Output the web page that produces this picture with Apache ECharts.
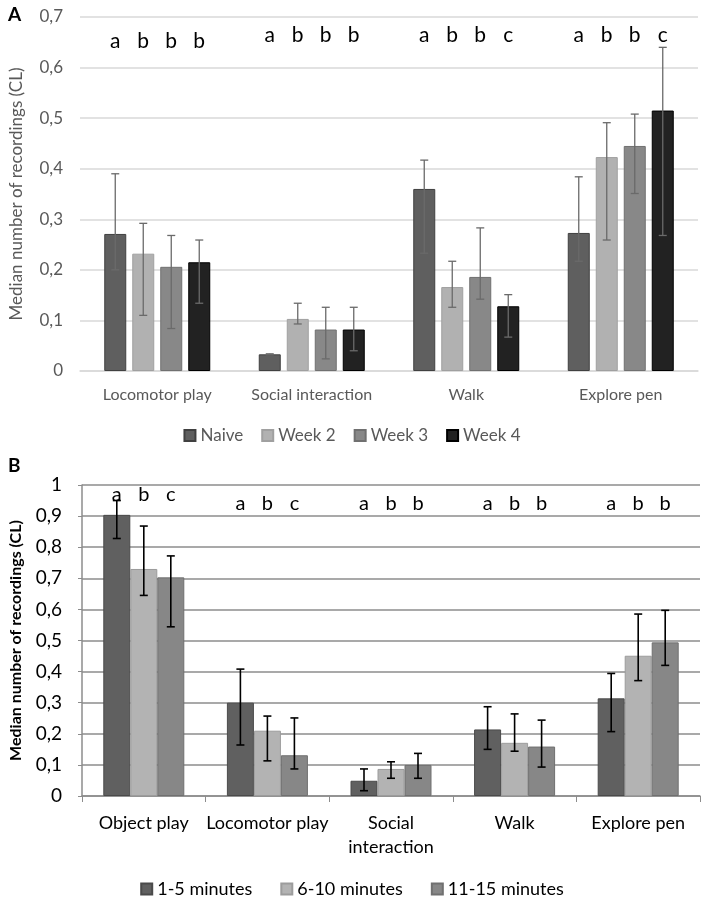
<!DOCTYPE html>
<html>
<head>
<meta charset="utf-8">
<script src="https://cdn.jsdelivr.net/npm/echarts@6/dist/echarts.min.js"></script>
<style>
  html, body { margin: 0; padding: 0; background: #fff; }
  #chart { width: 704px; height: 897px; }
</style>
</head>
<body>
<div id="chart"></div>
<script>
// Panel A: weeks
const catsA = ['Locomotor play', 'Social interaction', 'Walk', 'Explore pen'];
const namesA = ['Naive', 'Week 2', 'Week 3', 'Week 4'];
const naive = [0.271, 0.033, 0.36, 0.273];
const week2 = [0.232, 0.103, 0.166, 0.423];
const week3 = [0.206, 0.082, 0.186, 0.445];
const week4 = [0.215, 0.082, 0.128, 0.515];
const naiveLo = [0.20, 0.032, 0.233, 0.217];
const naiveHi = [0.39, 0.034, 0.417, 0.384];
const week2Lo = [0.11, 0.093, 0.126, 0.259];
const week2Hi = [0.292, 0.134, 0.217, 0.491];
const week3Lo = [0.084, 0.024, 0.142, 0.351];
const week3Hi = [0.268, 0.126, 0.283, 0.508];
const week4Lo = [0.134, 0.040, 0.067, 0.268];
const week4Hi = [0.259, 0.126, 0.151, 0.64];
const lettersA = [['a', 'b', 'b', 'b'], ['a', 'b', 'b', 'b'], ['a', 'b', 'b', 'c'], ['a', 'b', 'b', 'c']];
const ticksA = [0, 0.1, 0.2, 0.3, 0.4, 0.5, 0.6, 0.7];

// Panel B: minutes
const catsB = ['Object play', 'Locomotor play', 'Social\ninteraction', 'Walk', 'Explore pen'];
const namesB = ['1-5 minutes', '6-10 minutes', '11-15 minutes'];
const min1to5 = [0.904, 0.30, 0.049, 0.214, 0.314];
const min6to10 = [0.73, 0.21, 0.087, 0.171, 0.451];
const min11to15 = [0.703, 0.131, 0.10, 0.159, 0.494];
const min1to5Lo = [0.828, 0.164, 0.017, 0.150, 0.207];
const min1to5Hi = [0.95, 0.408, 0.087, 0.287, 0.394];
const min6to10Lo = [0.645, 0.113, 0.057, 0.144, 0.371];
const min6to10Hi = [0.868, 0.257, 0.11, 0.264, 0.585];
const min11to15Lo = [0.544, 0.087, 0.057, 0.093, 0.42];
const min11to15Hi = [0.772, 0.251, 0.137, 0.244, 0.597];
const lettersB = [['a', 'b', 'c'], ['a', 'b', 'c'], ['a', 'b', 'b'], ['a', 'b', 'b'], ['a', 'b', 'b']];

const FONT = 'Lato, "Open Sans", sans-serif';
const comma = v => String(Math.round(v * 10) / 10).replace('.', ',');

const chart = echarts.init(document.getElementById('chart'));

// bar offset from band centre
function offset(n, w, g, i) {
  return -(n * w + (n - 1) * g) / 2 + i * (w + g) + w / 2;
}

function errSeries(axis, lo, hi, off, color, lw, cap) {
  return {
    type: 'custom', xAxisIndex: axis, yAxisIndex: axis, z: 5, silent: true,
    data: lo.map((v, i) => [i, v, hi[i]]),
    renderItem: (params, api) => {
      const a = api.coord([api.value(0), api.value(1)]);
      const b = api.coord([api.value(0), api.value(2)]);
      const x = a[0] + off;
      const st = { stroke: color, lineWidth: lw };
      return {
        type: 'group', children: [
          { type: 'line', shape: { x1: x, y1: a[1], x2: x, y2: b[1] }, style: st },
          { type: 'line', shape: { x1: x - cap, y1: a[1], x2: x + cap, y2: a[1] }, style: st },
          { type: 'line', shape: { x1: x - cap, y1: b[1], x2: x + cap, y2: b[1] }, style: st }
        ]
      };
    }
  };
}

function letterSeries(axis, letters, yVals, offs, size) {
  return {
    type: 'custom', xAxisIndex: axis, yAxisIndex: axis, z: 6, silent: true,
    data: yVals.map((v, i) => [i, v]),
    renderItem: (params, api) => {
      const p = api.coord([api.value(0), api.value(1)]);
      return {
        type: 'group',
        children: letters[params.dataIndex].map((t, k) => ({
          type: 'text',
          style: { text: t, x: p[0] + offs[k], y: p[1], align: 'center', verticalAlign: 'middle',
            fill: '#000', font: size + 'px ' + FONT }
        }))
      };
    }
  };
}

const wA = 22, gA = 6, wB = 27, gB = 0;
const offA = namesA.map((_, i) => offset(4, wA, gA, i));
const offB = namesB.map((_, i) => offset(3, wB, gB, i));

const colA = ['#5f5f5f', '#b1b1b1', '#888888', '#222222'];
const bordA = ['#404040', '#a0a0a0', '#707070', '#000000'];
const colB = ['#606060', '#b3b3b3', '#878787'];
const bordB = ['#4a4a4a', '#9c9c9c', '#707070'];

const dataA = [naive, week2, week3, week4];
const loA = [naiveLo, week2Lo, week3Lo, week4Lo];
const hiA = [naiveHi, week2Hi, week3Hi, week4Hi];
const dataB = [min1to5, min6to10, min11to15];
const loB = [min1to5Lo, min6to10Lo, min11to15Lo];
const hiB = [min1to5Hi, min6to10Hi, min11to15Hi];

const series = [];
namesA.forEach((n, i) => series.push({
  name: n, type: 'bar', xAxisIndex: 0, yAxisIndex: 0, data: dataA[i],
  barWidth: wA, barGap: (gA / wA * 100) + '%',
  itemStyle: { color: colA[i], borderColor: bordA[i], borderWidth: 1 }
}));
namesB.forEach((n, i) => series.push({
  name: n, type: 'bar', xAxisIndex: 1, yAxisIndex: 1, data: dataB[i],
  barWidth: wB, barGap: '0%',
  itemStyle: { color: colB[i], borderColor: bordB[i], borderWidth: 1 }
}));
namesA.forEach((n, i) => series.push(errSeries(0, loA[i], hiA[i], offA[i], '#6a6a6a', 1.3, 4)));
namesB.forEach((n, i) => series.push(errSeries(1, loB[i], hiB[i], offB[i], '#000', 1.6, 4)));
series.push(letterSeries(0, lettersA, [0.652, 0.664, 0.664, 0.664], offA, 21));
series.push(letterSeries(1, lettersB, [0.968, 0.94, 0.94, 0.94, 0.94], offB, 20));

chart.setOption({
  animation: false,
  textStyle: { fontFamily: FONT },
  title: [
    { text: 'A', left: 3, top: 0, textStyle: { fontSize: 19, fontWeight: 'bold', color: '#000', fontFamily: FONT } },
    { text: 'B', left: 3, top: 451, textStyle: { fontSize: 19, fontWeight: 'bold', color: '#000', fontFamily: FONT } }
  ],
  legend: [
    { data: namesA, left: 'center', top: 422, itemWidth: 11, itemHeight: 11, itemGap: 18, icon: 'rect',
      textStyle: { color: '#595959', fontSize: 17, fontFamily: FONT } },
    { data: namesB, left: 'center', top: 875, itemWidth: 11, itemHeight: 11, itemGap: 28, icon: 'rect',
      textStyle: { color: '#000', fontSize: 18, fontFamily: FONT } }
  ],
  grid: [
    { left: 70, right: 6, top: 17, height: 354 },
    { left: 73, right: 4, top: 485, height: 311 }
  ],
  xAxis: [
    { type: 'category', gridIndex: 0, data: catsA,
      axisLine: { lineStyle: { color: '#d9d9d9', width: 1.5 } }, axisTick: { show: false },
      axisLabel: { color: '#595959', fontSize: 16, margin: 16, interval: 0, fontFamily: FONT } },
    { type: 'category', gridIndex: 1, data: catsB,
      axisLine: { lineStyle: { color: '#8c8c8c', width: 1.5 } },
      axisTick: { show: true, interval: 0, length: 6, lineStyle: { color: '#8c8c8c' } },
      axisLabel: { color: '#000', fontSize: 18, margin: 15, lineHeight: 24, interval: 0, fontFamily: FONT } }
  ],
  yAxis: [
    { type: 'value', gridIndex: 0, min: ticksA[0], max: ticksA[ticksA.length - 1], interval: 0.1,
      name: 'Median number of recordings (CL)', nameLocation: 'middle', nameGap: 55,
      nameTextStyle: { color: '#595959', fontSize: 17, fontFamily: FONT },
      axisLine: { show: false }, axisTick: { show: false },
      splitLine: { lineStyle: { color: '#d9d9d9', width: 1.5 } },
      axisLabel: { color: '#595959', fontSize: 17, margin: 17, formatter: comma, fontFamily: FONT } },
    { type: 'value', gridIndex: 1, min: 0, max: 1, interval: 0.1,
      name: 'Median number of recordings (CL)', nameLocation: 'middle', nameGap: 58,
      nameTextStyle: { color: '#000', fontSize: 16, fontWeight: 'bold', fontFamily: FONT },
      axisLine: { show: true, lineStyle: { color: '#8c8c8c', width: 1.5 } },
      axisTick: { show: true, length: 4, lineStyle: { color: '#8c8c8c' } },
      splitLine: { lineStyle: { color: '#8c8c8c', width: 1.5 } },
      axisLabel: { color: '#000', fontSize: 19, margin: 20, formatter: comma, fontFamily: FONT } }
  ],
  series: series
});
</script>
</body>
</html>
